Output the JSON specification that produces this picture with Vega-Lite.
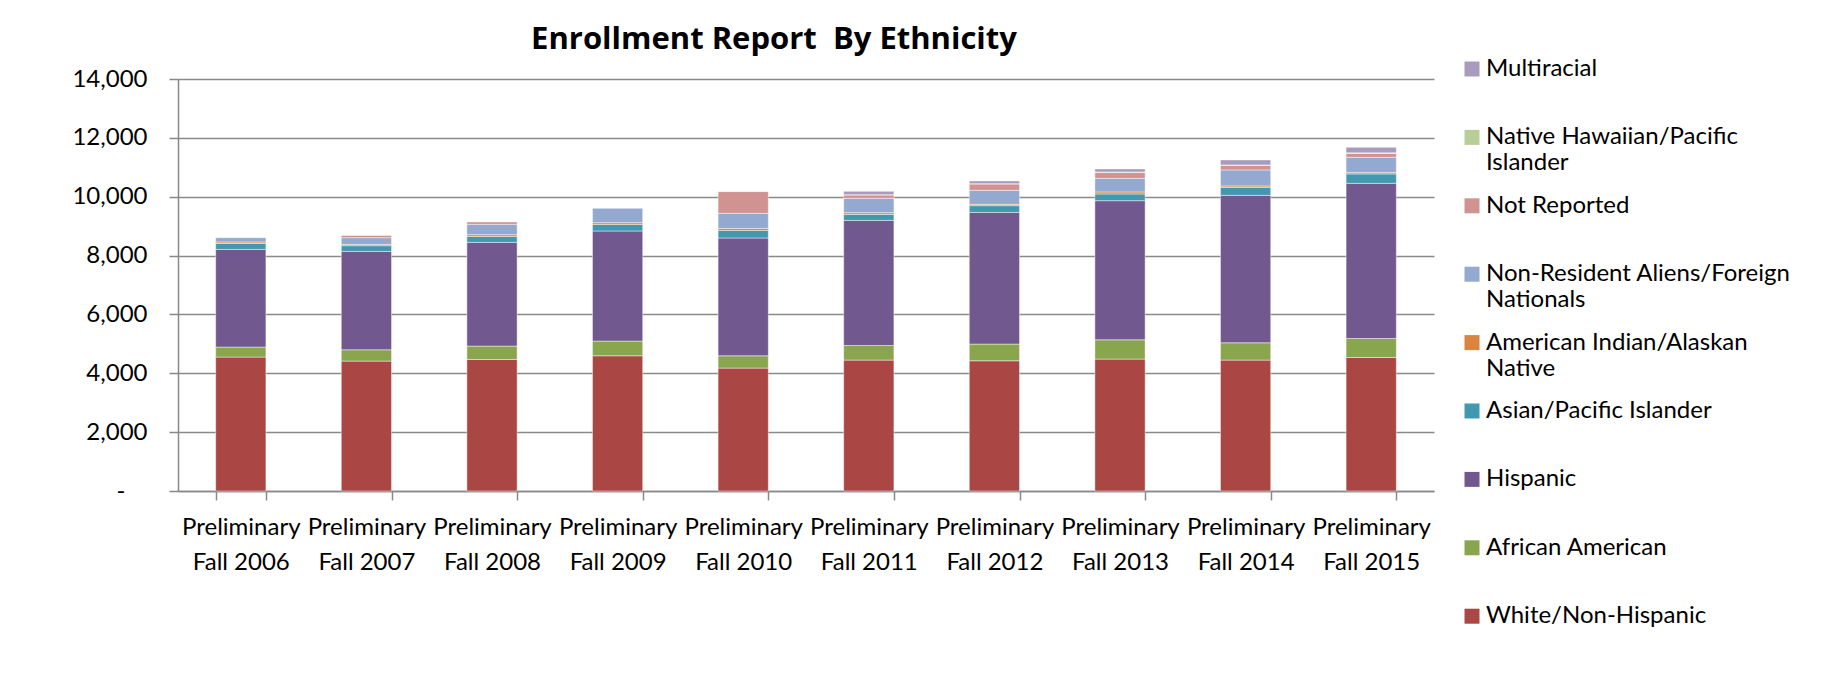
{
  "$schema": "https://vega.github.io/schema/vega-lite/v6.json",
  "autosize": {"type": "none"},
  "padding": {"left": 178, "top": 79, "right": 400, "bottom": 200},
  "width": 1256,
  "height": 412,
  "background": "white",
  "config": {
    "font": "Lato",
    "view": {"stroke": null},
    "axis": {"labelFont": "Lato", "labelFontSize": 24, "labelColor": "black", "domainColor": "#888888", "tickColor": "#888888", "gridColor": "#8a8a8a", "domainWidth": 1.5, "tickWidth": 1.5, "gridWidth": 1.5}
  },
  "title": {"text": "Enrollment Report\u00a0 By Ethnicity", "font": "Open Sans", "fontSize": 31, "fontWeight": "bold", "color": "black", "anchor": "middle", "frame": "group", "dx": -32, "offset": -23, "baseline": "alphabetic"},
  "data": {"values": [
    {"year": "Preliminary Fall 2006", "group": "White/Non-Hispanic", "count": 4551},
    {"year": "Preliminary Fall 2006", "group": "African American", "count": 340},
    {"year": "Preliminary Fall 2006", "group": "Hispanic", "count": 3319},
    {"year": "Preliminary Fall 2006", "group": "Asian/Pacific Islander", "count": 204},
    {"year": "Preliminary Fall 2006", "group": "American Indian/Alaskan Native", "count": 48},
    {"year": "Preliminary Fall 2006", "group": "Non-Resident Aliens/Foreign Nationals", "count": 146},
    {"year": "Preliminary Fall 2007", "group": "White/Non-Hispanic", "count": 4414},
    {"year": "Preliminary Fall 2007", "group": "African American", "count": 385},
    {"year": "Preliminary Fall 2007", "group": "Hispanic", "count": 3343},
    {"year": "Preliminary Fall 2007", "group": "Asian/Pacific Islander", "count": 194},
    {"year": "Preliminary Fall 2007", "group": "American Indian/Alaskan Native", "count": 44},
    {"year": "Preliminary Fall 2007", "group": "Non-Resident Aliens/Foreign Nationals", "count": 228},
    {"year": "Preliminary Fall 2007", "group": "Not Reported", "count": 78},
    {"year": "Preliminary Fall 2008", "group": "White/Non-Hispanic", "count": 4469},
    {"year": "Preliminary Fall 2008", "group": "African American", "count": 456},
    {"year": "Preliminary Fall 2008", "group": "Hispanic", "count": 3523},
    {"year": "Preliminary Fall 2008", "group": "Asian/Pacific Islander", "count": 204},
    {"year": "Preliminary Fall 2008", "group": "American Indian/Alaskan Native", "count": 58},
    {"year": "Preliminary Fall 2008", "group": "Non-Resident Aliens/Foreign Nationals", "count": 350},
    {"year": "Preliminary Fall 2008", "group": "Not Reported", "count": 82},
    {"year": "Preliminary Fall 2009", "group": "White/Non-Hispanic", "count": 4595},
    {"year": "Preliminary Fall 2009", "group": "African American", "count": 500},
    {"year": "Preliminary Fall 2009", "group": "Hispanic", "count": 3741},
    {"year": "Preliminary Fall 2009", "group": "Asian/Pacific Islander", "count": 224},
    {"year": "Preliminary Fall 2009", "group": "American Indian/Alaskan Native", "count": 58},
    {"year": "Preliminary Fall 2009", "group": "Non-Resident Aliens/Foreign Nationals", "count": 487},
    {"year": "Preliminary Fall 2010", "group": "White/Non-Hispanic", "count": 4176},
    {"year": "Preliminary Fall 2010", "group": "African American", "count": 419},
    {"year": "Preliminary Fall 2010", "group": "Hispanic", "count": 4003},
    {"year": "Preliminary Fall 2010", "group": "Asian/Pacific Islander", "count": 258},
    {"year": "Preliminary Fall 2010", "group": "American Indian/Alaskan Native", "count": 68},
    {"year": "Preliminary Fall 2010", "group": "Non-Resident Aliens/Foreign Nationals", "count": 511},
    {"year": "Preliminary Fall 2010", "group": "Not Reported", "count": 737},
    {"year": "Preliminary Fall 2011", "group": "White/Non-Hispanic", "count": 4448},
    {"year": "Preliminary Fall 2011", "group": "African American", "count": 497},
    {"year": "Preliminary Fall 2011", "group": "Hispanic", "count": 4251},
    {"year": "Preliminary Fall 2011", "group": "Asian/Pacific Islander", "count": 204},
    {"year": "Preliminary Fall 2011", "group": "American Indian/Alaskan Native", "count": 58},
    {"year": "Preliminary Fall 2011", "group": "Non-Resident Aliens/Foreign Nationals", "count": 487},
    {"year": "Preliminary Fall 2011", "group": "Not Reported", "count": 115},
    {"year": "Preliminary Fall 2011", "group": "Native Hawaiian/Pacific Islander", "count": 10},
    {"year": "Preliminary Fall 2011", "group": "Multiracial", "count": 113},
    {"year": "Preliminary Fall 2012", "group": "White/Non-Hispanic", "count": 4425},
    {"year": "Preliminary Fall 2012", "group": "African American", "count": 568},
    {"year": "Preliminary Fall 2012", "group": "Hispanic", "count": 4475},
    {"year": "Preliminary Fall 2012", "group": "Asian/Pacific Islander", "count": 228},
    {"year": "Preliminary Fall 2012", "group": "American Indian/Alaskan Native", "count": 45},
    {"year": "Preliminary Fall 2012", "group": "Non-Resident Aliens/Foreign Nationals", "count": 476},
    {"year": "Preliminary Fall 2012", "group": "Not Reported", "count": 217},
    {"year": "Preliminary Fall 2012", "group": "Native Hawaiian/Pacific Islander", "count": 10},
    {"year": "Preliminary Fall 2012", "group": "Multiracial", "count": 92},
    {"year": "Preliminary Fall 2013", "group": "White/Non-Hispanic", "count": 4482},
    {"year": "Preliminary Fall 2013", "group": "African American", "count": 657},
    {"year": "Preliminary Fall 2013", "group": "Hispanic", "count": 4727},
    {"year": "Preliminary Fall 2013", "group": "Asian/Pacific Islander", "count": 228},
    {"year": "Preliminary Fall 2013", "group": "American Indian/Alaskan Native", "count": 68},
    {"year": "Preliminary Fall 2013", "group": "Non-Resident Aliens/Foreign Nationals", "count": 463},
    {"year": "Preliminary Fall 2013", "group": "Not Reported", "count": 204},
    {"year": "Preliminary Fall 2013", "group": "Native Hawaiian/Pacific Islander", "count": 12},
    {"year": "Preliminary Fall 2013", "group": "Multiracial", "count": 103},
    {"year": "Preliminary Fall 2014", "group": "White/Non-Hispanic", "count": 4448},
    {"year": "Preliminary Fall 2014", "group": "African American", "count": 589},
    {"year": "Preliminary Fall 2014", "group": "Hispanic", "count": 5010},
    {"year": "Preliminary Fall 2014", "group": "Asian/Pacific Islander", "count": 272},
    {"year": "Preliminary Fall 2014", "group": "American Indian/Alaskan Native", "count": 47},
    {"year": "Preliminary Fall 2014", "group": "Non-Resident Aliens/Foreign Nationals", "count": 544},
    {"year": "Preliminary Fall 2014", "group": "Not Reported", "count": 157},
    {"year": "Preliminary Fall 2014", "group": "Native Hawaiian/Pacific Islander", "count": 14},
    {"year": "Preliminary Fall 2014", "group": "Multiracial", "count": 170},
    {"year": "Preliminary Fall 2015", "group": "White/Non-Hispanic", "count": 4537},
    {"year": "Preliminary Fall 2015", "group": "African American", "count": 646},
    {"year": "Preliminary Fall 2015", "group": "Hispanic", "count": 5272},
    {"year": "Preliminary Fall 2015", "group": "Asian/Pacific Islander", "count": 319},
    {"year": "Preliminary Fall 2015", "group": "American Indian/Alaskan Native", "count": 45},
    {"year": "Preliminary Fall 2015", "group": "Non-Resident Aliens/Foreign Nationals", "count": 520},
    {"year": "Preliminary Fall 2015", "group": "Not Reported", "count": 136},
    {"year": "Preliminary Fall 2015", "group": "Native Hawaiian/Pacific Islander", "count": 15},
    {"year": "Preliminary Fall 2015", "group": "Multiracial", "count": 189}
  ]},
  "transform": [
    {"calculate": "indexof(['Multiracial', 'Native Hawaiian/Pacific Islander', 'Not Reported', 'Non-Resident Aliens/Foreign Nationals', 'American Indian/Alaskan Native', 'Asian/Pacific Islander', 'Hispanic', 'African American', 'White/Non-Hispanic'], datum.group)", "as": "stackRank"}
  ],
  "mark": {"type": "bar", "stroke": "white", "strokeOpacity": 0.45, "strokeWidth": 1},
  "encoding": {
    "x": {
      "field": "year", "type": "nominal", "title": null,
      "scale": {"paddingInner": 0.6, "paddingOuter": 0.3},
      "axis": {"labelAngle": 0, "tickBand": "extent", "tickSize": 9, "labelPadding": 15, "labelLineHeight": 35, "labelBaseline": "top",
               "labelExpr": "test(/Fall/, '' + datum.label) ? ['Preliminary', replace(datum.label, 'Preliminary ', '')] : ''"}
    },
    "y": {
      "field": "count", "type": "quantitative", "aggregate": "sum", "stack": "zero", "title": null,
      "scale": {"domain": [0, 14000], "nice": false},
      "axis": {"values": [0, 2000, 4000, 6000, 8000, 10000, 12000, 14000], "tickSize": 9, "grid": true,
               "labelPadding": {"condition": {"test": "datum.value === 0", "value": 44}, "value": 22},
               "labelExpr": "datum.value == 0 ? '-' : format(datum.value, ',')"}
    },
    "order": {"field": "stackRank", "type": "quantitative", "sort": "descending"},
    "color": {
      "field": "group", "type": "nominal",
      "scale": {
        "domain": ["Multiracial", "Native Hawaiian/Pacific Islander", "Not Reported", "Non-Resident Aliens/Foreign Nationals", "American Indian/Alaskan Native", "Asian/Pacific Islander", "Hispanic", "African American", "White/Non-Hispanic"],
        "range": ["#A99BBD", "#B9CD96", "#D19392", "#93A9CF", "#DB843D", "#4198AF", "#71588F", "#89A54E", "#AA4643"]
      },
      "legend": {
        "orient": "none", "legendX": 1282, "legendY": -22, "title": null, "padding": 0,
        "symbolType": "square", "symbolSize": 225, "symbolStrokeWidth": 0,
        "labelFont": "Lato", "labelFontSize": 24, "labelColor": "black", "labelLimit": 500, "labelOffset": 2,
        "rowPadding": 18.4, "labelBaseline": "middle",
        "labelExpr": "datum.label == 'Native Hawaiian/Pacific Islander' ? ['Native Hawaiian/Pacific', 'Islander'] : datum.label == 'Non-Resident Aliens/Foreign Nationals' ? ['Non-Resident Aliens/Foreign', 'Nationals'] : datum.label == 'American Indian/Alaskan Native' ? ['American Indian/Alaskan', 'Native'] : [datum.label, '']",
        "encode": {"labels": {"update": {"lineHeight": {"value": 31}}}}
      }
    }
  }
}
